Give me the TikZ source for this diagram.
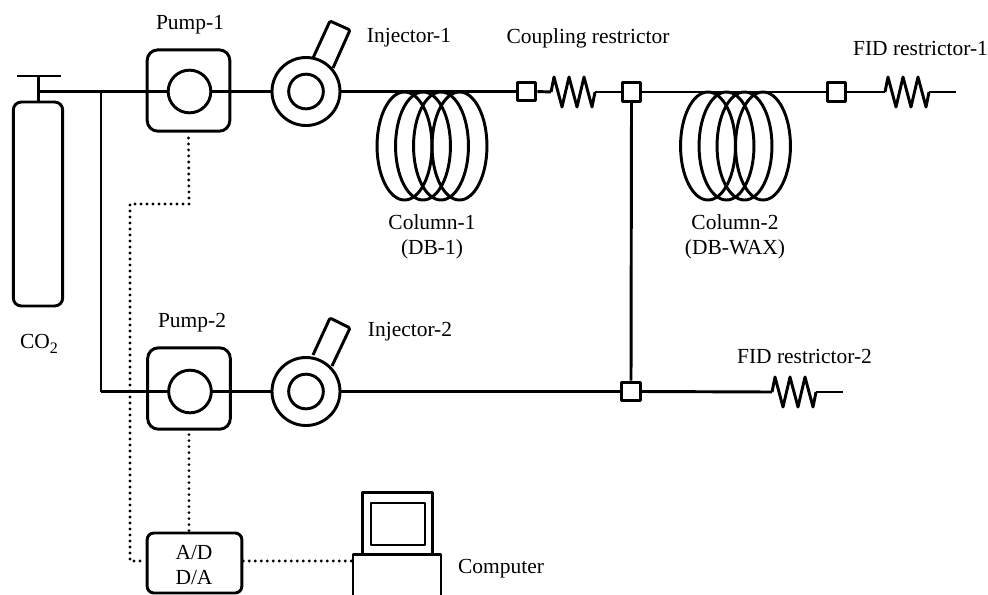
\documentclass[tikz,border=0pt]{standalone}
\usepackage{fontspec}
\setmainfont{Liberation Serif}
\usetikzlibrary{calc}
\tikzset{
  x=0.75pt,y=-0.75pt,
  lw/.style={line width=2.2pt,line join=round},
  pumpbox/.style={draw,lw,rounded corners=8pt,minimum width=62pt,minimum height=61pt,inner sep=0pt},
  ringbig/.style={draw,lw,circle,minimum size=51pt,inner sep=0pt},
  ringsmall/.style={draw,lw,circle,minimum size=26pt,inner sep=0pt},
  pumpcircle/.style={draw,lw,circle,fill=white,minimum size=32pt,inner sep=0pt},
  junction/.style={draw,lw,fill=white,minimum size=14pt,inner sep=0pt},
  label/.style={font=\fontsize{16.1pt}{18pt}\selectfont,inner sep=0pt,align=center},
  dots/.style={line width=2.4pt,line cap=round,dash pattern=on 0pt off 4.5pt},
  coil/.style={lw,x radius=20.6pt,y radius=40.5pt}
}
\newcommand{\zigzag}[3]{% x start, y, name prefix
  \draw[lw] (#1,#2) -- ++(3,-15) -- ++(8,30) -- ++(7,-30) -- ++(8,30) -- ++(7,-30) -- ++(8,30) -- ++(3,-15) coordinate (#3);
}
\begin{document}
\begin{tikzpicture}
\useasboundingbox (0,0) rectangle (988,594);
\clip (0,0) rectangle (988,594);
% cylinder
\node[draw,lw,rounded corners=6pt,minimum width=37pt,minimum height=153pt,inner sep=0pt] (cyl) at (38,204) {};
\coordinate (valveL) at (17,76);
\coordinate (valveR) at (61,76);
\coordinate (valveC) at (38.5,76);
\coordinate (tee) at (38.5,91.5);
\coordinate (tee2) at (101,91.5);
\coordinate (tee3) at (101,391.5);
\draw[lw] (valveL) -- (valveR);
\draw[lw] (valveC) -- (cyl.north-|valveC);
% pumps
\node[pumpbox] (p1) at (188.5,90.5) {};
\node[pumpbox] (p2) at (189,388.5) {};
\node[ringbig] (i1) at (306,91.5) {};
\node[ringsmall] (i1s) at (306,91.5) {};
\node[ringbig] (i2) at (306,391.5) {};
\node[ringsmall] (i2s) at (306,391.5) {};
% injector handles
\draw[lw,rounded corners=1pt] (313,58) -- (330,21) -- (350,30) -- (333,68);
\draw[lw,rounded corners=1pt] (313,355) -- (330,318) -- (350,328) -- (332,366);
% lines
\node[junction] (s1) at (526.5,91.5) {};
\node[junction] (s2) at (631.5,92) {};
\node[junction] (s3) at (836.5,92) {};
\node[junction] (s4) at (631,391.5) {};
\draw[lw] (tee) -- (p1.west |- tee) -- (i1.west);
\draw[lw] (tee2) -- (tee3);
\draw[lw] (tee3) -- (i2.west);
\draw[lw] (i1.east) -- (s1.west);
\draw[lw] (i2.east) -- (s4.west);
\draw[lw] (s2.south) -- (s4.north);
\draw[lw] (s2.east) -- (s3.west);
\coordinate (r1a) at (551,92);
\zigzag{551}{92}{r1b}
\draw[lw] (s1.east) -- (r1a);
\draw[lw] (r1b) -- (s2.west);
\coordinate (r2a) at (885,92);
\zigzag{885}{92}{r2b}
\coordinate (endA) at (956,92);
\draw[lw] (s3.east) -- (r2a);
\draw[lw] (r2b) -- (endA);
\coordinate (r3a) at (772,392);
\zigzag{772}{392}{r3b}
\coordinate (endB) at (843,392);
\draw[lw] (s4.east) -- (r3a);
\draw[lw] (r3b) -- (endB);
\node[pumpcircle] (p1c) at (189.5,91.5) {};
\node[pumpcircle] (p2c) at (190,391.5) {};
% columns
\foreach \cx in {404.5,423,441,459.5}{\draw[coil] (\cx,146) ellipse [];}
\foreach \cx in {708,726.5,744.5,763}{\draw[coil] (\cx,146) ellipse [];}
% electronics
\node[draw,lw,rounded corners=5pt,minimum width=71pt,minimum height=45pt,inner sep=0pt] (ad) at (194.5,563) {};
\node[label] (adt) at (194,553) {A/D};
\node[label] (dat) at (194,578) {D/A};
\node[draw,lw,minimum width=66pt,minimum height=40pt,inner sep=0pt] (base) at (397,581) {};
\node[draw,lw,minimum width=52pt,minimum height=46pt,inner sep=0pt] (mon) at (397.5,523.5) {};
\node[draw,lw,minimum width=40.5pt,minimum height=31.5pt,inner sep=0pt] (scr) at (398,524) {};
\coordinate (d1) at (189,204);
\coordinate (d2) at (130,204);
\coordinate (d3) at (130,561);
\draw[dots] ([yshift=-4pt]p1.south) -- (d1) -- (d2) -- (d3) -- (ad.west |- d3);
\draw[dots] ([yshift=-3pt]p2.south) -- (ad.north -| p2.south);
\draw[dots] (ad.east |- d3) -- (base.west |- d3);
% labels
\node[label] (t1) at (190,25) {Pump-1};
\node[label] (t2) at (192,323) {Pump-2};
\node[label] (t3) at (409,38) {Injector-1};
\node[label] (t4) at (410,332) {Injector-2};
\node[label] (t5) at (588,38) {Coupling restrictor};
\node[label] (t6) at (920.5,48) {FID restrictor-1};
\node[label] (t7) at (804.5,356) {FID restrictor-2};
\node[label] (t8) at (432,222) {Column-1};
\node[label] (t9) at (432,249) {(DB-1)};
\node[label] (t10) at (735,222) {Column-2};
\node[label] (t11) at (735,249) {(DB-WAX)};
\node[label] (t12) at (39,344) {CO\raisebox{-3.5pt}{\fontsize{12pt}{14pt}\selectfont 2}};
\node[label] (t13) at (501,569) {Computer};
\end{tikzpicture}
\end{document}
